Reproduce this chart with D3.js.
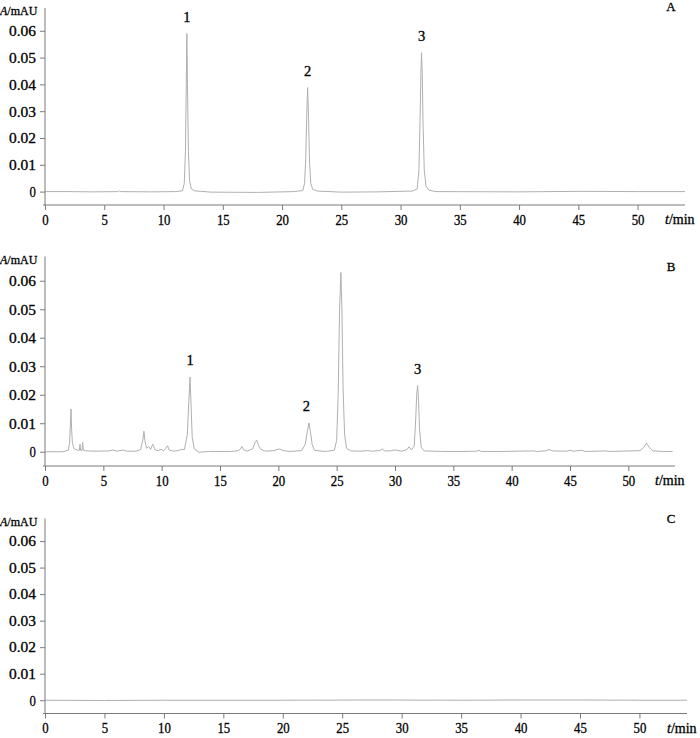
<!DOCTYPE html>
<html><head><meta charset="utf-8">
<script src="https://cdn.jsdelivr.net/npm/d3@7"></script>
<style>body{margin:0;background:#fff} svg{display:block}</style>
</head><body><svg id="c" width="700" height="738"></svg>
<script>
const xTicks=[0,5,10,15,20,25,30,35,40,45,50];
const yTicks=[0,0.01,0.02,0.03,0.04,0.05,0.06];
const yTickLabels=["0","0.01","0.02","0.03","0.04","0.05","0.06"];
const panelLetters=["A","B","C"];
const xTitle="t/min";
const yTitle="A/mAU";

// chromatogram A (standards)
const traceA=[[0,0],[2,0],[4,-0.0001],[6.2,0],[6.3,0.0003],[6.4,0],[9,-0.0001],[11,0],[11.6,0.0003],[11.75,0.003],[11.85,0.015],[11.92,0.04],[11.97,0.059],[12.02,0.04],[12.1,0.015],[12.2,0.004],[12.35,0.001],[12.6,0.0003],[14,-0.0002],[18,-0.0003],[21,0],[21.75,0.0004],[21.9,0.003],[22.0,0.012],[22.08,0.028],[22.16,0.0388],[22.24,0.027],[22.32,0.011],[22.42,0.003],[22.6,0.0008],[23,0.0002],[25,-0.0002],[28,-0.0001],[31,0.0002],[31.4,0.001],[31.55,0.008],[31.65,0.028],[31.72,0.045],[31.77,0.0518],[31.83,0.044],[31.9,0.025],[32.0,0.008],[32.15,0.002],[32.4,0.0005],[33,0],[40,-0.0001],[45,0.0001],[50,0],[54,0]];
const peaksA=[{label:"1",t:11.97,v:0.059},{label:"2",t:22.16,v:0.0388},{label:"3",t:31.77,v:0.0518}];

// chromatogram B (sample)
const traceB=[[0,0],[1.5,0],[2.0,0.0005],[2.1,0.003],[2.17,0.009],[2.23,0.015],[2.28,0.008],[2.35,0.003],[2.5,0.001],[2.8,0.0005],[2.95,0.0005],[3.0,0.0027],[3.05,0.0005],[3.18,0.0005],[3.23,0.0033],[3.28,0.0006],[3.5,0.0003],[4.5,0.0002],[5.5,0.0003],[5.8,0.0006],[6.2,0.0002],[6.7,0.0006],[7.0,0.0002],[7.8,0.0002],[8.2,0.0008],[8.4,0.0045],[8.48,0.0072],[8.56,0.004],[8.7,0.0012],[8.89,0.0019],[9.05,0.0008],[9.23,0.0027],[9.45,0.0006],[9.7,0.0004],[9.94,0.0009],[10.15,0.0003],[10.35,0.0012],[10.5,0.0021],[10.65,0.0006],[11.0,0.0002],[11.4,0.0004],[11.7,0.0008],[11.95,0.0008],[12.2,0.006],[12.33,0.018],[12.43,0.0262],[12.52,0.016],[12.62,0.005],[12.8,0.001],[13.2,-0.0002],[14,0.0001],[15,0.0001],[16,0.0001],[16.6,0.0004],[16.8,0.0013],[16.88,0.0018],[17.0,0.0008],[17.3,0.0002],[17.8,0.001],[18.0,0.0032],[18.14,0.0041],[18.3,0.0022],[18.5,0.0008],[18.9,0.0002],[19.6,0.0004],[20.1,0.001],[20.4,0.0004],[21,0.0001],[22.0,0.0004],[22.3,0.0025],[22.5,0.0075],[22.62,0.0101],[22.75,0.007],[22.9,0.0025],[23.1,0.0005],[24,0.0001],[24.8,0.0005],[25.0,0.004],[25.13,0.02],[25.25,0.05],[25.36,0.0629],[25.45,0.05],[25.55,0.022],[25.68,0.006],[25.85,0.0012],[26.2,0.0003],[27,0.0002],[27.65,0.0004],[28,0.0002],[28.7,0.0004],[28.9,0.001],[29.1,0.0003],[29.6,0.0003],[29.9,0.0006],[30.2,0.0005],[30.6,0.0002],[31.0,0.0007],[31.2,0.0017],[31.4,0.0006],[31.65,0.002],[31.78,0.012],[31.86,0.02],[31.94,0.0232],[32.02,0.018],[32.1,0.008],[32.25,0.0015],[32.5,0.0003],[34,0.0001],[36,0.0001],[37.0,0.0002],[37.2,0.0005],[37.4,0.0001],[39,0.0001],[41.9,0.0003],[42.2,0.0001],[42.9,0.0003],[43.2,0.0008],[43.5,0.0003],[44.7,0.0002],[45.0,0.0005],[45.3,0.0002],[46.0,0.0005],[46.3,0.0001],[48.0,0.0003],[48.5,0.0001],[51.0,0.0004],[51.3,0.0015],[51.56,0.003],[51.8,0.0015],[52.1,0.0003],[53,0.0001],[53.8,0.0001]];
const peaksB=[{label:"1",t:12.43,v:0.0262},{label:"2",t:22.4,v:0.0101},{label:"3",t:31.94,v:0.0232}];

// chromatogram C (blank)
const traceC=[[0,0],[5,-0.0001],[10,0],[20,0],[28,0.0001],[35,0],[40,0.0001],[45,0.0001],[50,0],[54,0]];
const peaksC=[];

const panels=[
  {trace:traceA,peaks:peaksA,letter:panelLetters[0],top:8,bottom:205,right:685,letterY:8},
  {trace:traceB,peaks:peaksB,letter:panelLetters[1],top:256.5,bottom:466,right:675,letterY:268},
  {trace:traceC,peaks:peaksC,letter:panelLetters[2],top:518.5,bottom:713.5,right:687,letterY:520}
];

const svg=d3.select("#c");
const font="Liberation Serif";
const axisColor="#7a7a7a";
function styleText(sel,size){
  sel.attr("fill","#000").attr("stroke","#000").attr("stroke-width",0.3)
    .attr("font-family",font).attr("font-size",size);
}

panels.forEach(p=>{
  const x=d3.scaleLinear().domain([0,54]).range([45,p.right]);
  const y=d3.scaleLinear().domain([-0.005,0.0685]).range([p.bottom,p.top]);
  const g=svg.append("g");

  // trace
  g.append("path").datum(p.trace)
    .attr("fill","none").attr("stroke","#b0b0b0").attr("stroke-width",1)
    .attr("stroke-linejoin","round")
    .attr("d",d3.line().x(d=>x(d[0])).y(d=>y(d[1])));

  // y axis
  const ya=g.append("g").attr("transform",`translate(${x(0)},0)`)
    .call(d3.axisLeft(y).tickValues(yTicks).tickSize(5).tickSizeOuter(0).tickPadding(4)
      .tickFormat((d,i)=>yTickLabels[i]));
  ya.select(".domain").remove();
  g.append("line").attr("x1",x(0)).attr("x2",x(0)).attr("y1",p.top).attr("y2",p.bottom)
    .attr("stroke",axisColor);

  // x axis
  const xa=g.append("g").attr("transform",`translate(0,${p.bottom})`)
    .call(d3.axisBottom(x).tickValues(xTicks).tickSize(5).tickSizeOuter(0).tickPadding(5));
  xa.select(".domain").remove();
  g.append("line").attr("x1",x(0)-2).attr("x2",p.right).attr("y1",p.bottom).attr("y2",p.bottom)
    .attr("stroke",axisColor);

  ya.attr("font-family",null).attr("font-size",null);
  xa.attr("font-family",null).attr("font-size",null);
  ya.selectAll(".tick line").attr("stroke",axisColor);
  xa.selectAll(".tick line").attr("stroke",axisColor);
  styleText(ya.selectAll(".tick text"),15);
  styleText(xa.selectAll(".tick text"),14);
  xa.selectAll(".tick text").each(function(){
    const n=this.textContent.length;
    d3.select(this).attr("textLength",n*6.4).attr("lengthAdjust","spacingAndGlyphs");
  });
  ya.selectAll(".tick text").each(function(){
    const s=this.textContent;
    d3.select(this).attr("textLength",s.length===1?6.4:27).attr("lengthAdjust","spacingAndGlyphs");
  });

  // axis titles
  const yt=g.append("text").attr("x",0).attr("y",p.top+4).attr("dominant-baseline","middle");
  styleText(yt,12);
  yt.append("tspan").attr("font-style","italic").text(yTitle.split("/")[0]);
  yt.append("tspan").text("/"+yTitle.split("/")[1]);

  const xt=g.append("text").attr("x",p.right-20).attr("y",p.bottom+16).attr("dominant-baseline","middle");
  styleText(xt,14);
  xt.append("tspan").attr("font-style","italic").text(xTitle.split("/")[0]);
  xt.append("tspan").text("/"+xTitle.split("/")[1]);

  // panel letter
  const pl=g.append("text").attr("x",671).attr("y",p.letterY).attr("text-anchor","middle")
    .attr("dominant-baseline","middle").text(p.letter);
  styleText(pl,13);

  // peak labels
  const lb=g.selectAll(".pk").data(p.peaks).enter().append("text")
    .attr("x",d=>x(d.t)).attr("y",d=>y(d.v)-15).attr("text-anchor","middle")
    .attr("dominant-baseline","middle").text(d=>d.label);
  styleText(lb,14.5);
});
</script></body></html>
